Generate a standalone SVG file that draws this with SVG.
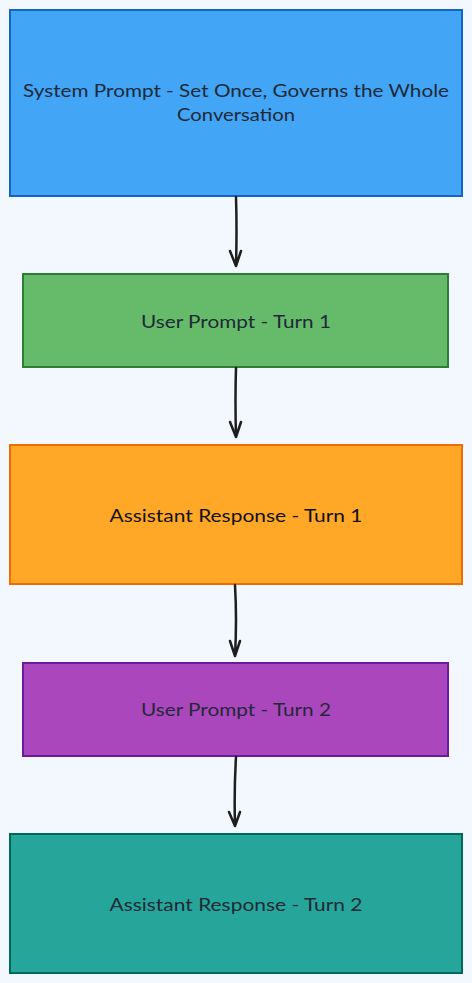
<svg xmlns="http://www.w3.org/2000/svg" width="472" height="983" viewBox="0 0 472 983">
<style>
.t{font-family:Lato,"Noto Sans",sans-serif;font-size:17.5px;fill:#1f2937;text-anchor:middle}
.b{stroke-width:2}
.c{fill:none;stroke:#1e1e1e;stroke-width:2.5;stroke-linecap:round;stroke-linejoin:round}
</style>
<rect width="472" height="983" fill="#f3f8fe"/>
<g id="system"><rect class="b" x="10" y="10" width="452" height="186" fill="#42a5f5" stroke="#1565c0"/>
<text class="t" x="236" y="97" textLength="426" lengthAdjust="spacingAndGlyphs">System Prompt - Set Once, Governs the Whole</text>
<text class="t" x="236" y="121" textLength="118" lengthAdjust="spacingAndGlyphs">Conversation</text></g>
<g id="user1"><rect class="b" x="23" y="274" width="425" height="93" fill="#66bb6a" stroke="#2e7d32"/>
<text class="t" x="236" y="328" textLength="190" lengthAdjust="spacingAndGlyphs">User Prompt - Turn 1</text></g>
<g id="assistant1"><rect class="b" x="10" y="445" width="452" height="139" fill="#ffa726" stroke="#ef6c00"/>
<text class="t" x="236" y="522" textLength="253" lengthAdjust="spacingAndGlyphs" style="fill:#111">Assistant Response - Turn 1</text></g>
<g id="user2"><rect class="b" x="23" y="663" width="425" height="93" fill="#ab47bc" stroke="#6a1b9a"/>
<text class="t" x="236" y="716" textLength="190" lengthAdjust="spacingAndGlyphs">User Prompt - Turn 2</text></g>
<g id="assistant2"><rect class="b" x="10" y="834" width="452" height="139" fill="#26a69a" stroke="#00695c"/>
<text class="t" x="236" y="911" textLength="253" lengthAdjust="spacingAndGlyphs">Assistant Response - Turn 2</text></g>
<g id="connectors">
<path class="c" d="M236 197 Q237 230 236 266 M230 251 L236 266 L241 251"/>
<path class="c" d="M236 368 Q235 400 236 437 M230 422 L236 437 L241 422"/>
<path class="c" d="M235 585 Q237 620 235 656 M230 641 L235 656 L240 641"/>
<path class="c" d="M236 757 Q234 790 235 826 M229 812 L235 826 L240 812"/>
</g>
</svg>
